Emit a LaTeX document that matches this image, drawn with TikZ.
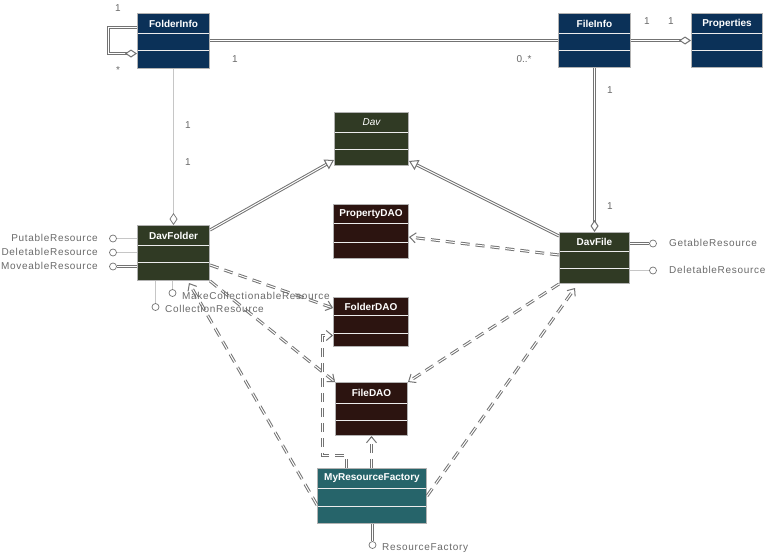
\documentclass[tikz,border=0pt]{standalone}
\usepackage{fontspec}
\setmainfont{Liberation Sans}
\usetikzlibrary{arrows.meta,calc}
\definecolor{cnavy}{HTML}{0B3158}
\definecolor{colive}{HTML}{303A24}
\definecolor{cbrown}{HTML}{2C1410}
\definecolor{cteal}{HTML}{26646A}
\definecolor{ctext}{HTML}{6A6A6A}
\tikzset{
 classbox/.style={draw=gray!60, line width=1pt, inner sep=0pt},
 sepline/.style={draw=gray!15, line width=1pt},
 titletext/.style={text=white, font=\bfseries\fontsize{10}{12}\selectfont, inner sep=0pt},
 conn/.style={draw=black!55, line width=1pt, double=white, double distance=1pt},
 plain/.style={draw=gray!45, line width=1pt},
 dep/.style={conn, dash pattern=on 9pt off 6pt, -{Straight Barb[length=6pt,width=10pt]}},
 gen/.style={conn, -{Triangle[open,length=9pt,width=11pt,fill=white]}},
 agg/.style={conn, -{Diamond[open,length=12pt,width=8pt,fill=white]}},
 aggplain/.style={plain, -{Diamond[open,length=12pt,width=8pt,fill=white,line width=0.7pt,color=black!55]}},
 lbl/.style={text=ctext, font=\fontsize{10}{12}\selectfont\addfontfeature{LetterSpace=7}, inner sep=0pt},
 mult/.style={text=ctext, font=\fontsize{10}{12}\selectfont, inner sep=0pt},
 lolli/.style={circle, draw=black!55, fill=white, minimum size=7pt, inner sep=0pt, line width=0.7pt},
}
\newcommand\umlclass[9]{%
 \node[classbox, fill=#8, anchor=north west, minimum width=#4pt, minimum height={(#5+#6+#7)*1pt}] (#1) at (#2,#3) {};
 \draw[sepline] ($(#1.north west)+(1,#5+0.5)$) -- ($(#1.north east)+(-1,#5+0.5)$);
 \draw[sepline] ($(#1.north west)+(1,#5+#6+0.5)$) -- ($(#1.north east)+(-1,#5+#6+0.5)$);
 \node[titletext] (#1-title) at ($(#1.north)+(0,#5/2+0.5)$) {#9};
}
\begin{document}
\begin{tikzpicture}[x=1pt,y=-1pt]
\useasboundingbox[fill=white] (0,0) rectangle (766,557);

\umlclass{fi}{137}{13}{72}{20}{17}{18}{cnavy}{FolderInfo}
\umlclass{fl}{558}{13}{72}{20}{17}{17}{cnavy}{FileInfo}
\umlclass{pr}{691}{13}{71}{20}{17}{17}{cnavy}{Properties}
\umlclass{dav}{334}{112}{74}{20}{17}{16}{colive}{\mdseries\itshape Dav}
\umlclass{dfo}{137}{225}{72}{20}{17}{18}{colive}{DavFolder}
\umlclass{dfi}{559}{232}{70}{19}{17}{15}{colive}{DavFile}
\umlclass{pdao}{333}{204}{75}{19}{19}{16}{cbrown}{PropertyDAO}
\umlclass{fdao}{333}{297}{75}{18}{18}{13}{cbrown}{FolderDAO}
\umlclass{fidao}{335}{382}{72}{21}{17}{15}{cbrown}{FileDAO}
\umlclass{mrf}{317}{468}{109}{20}{18}{17}{cteal}{MyResourceFactory}

% associations
\draw[agg] ($(fi.north west)+(0,14.5)$) -- ++(-28.5,0) -- ++(0,26) -- ($(fi.north west)+(0,40.5)$);
\draw[conn] ($(fi.north east)+(0,27.5)$) -- ($(fl.north west)+(0,27.5)$);
\draw[agg] ($(fl.north east)+(0,27.5)$) -- ($(pr.north west)+(0,27.5)$);
\draw[agg] (fl.south) -- (dfi.north);
\draw[aggplain] (fi.south) -- (dfo.north);
% generalizations
\draw[gen] ($(dfo.north east)+(0,5)$) -- ($(dav.south west)+(0,-6)$);
\draw[gen] ($(dfi.north west)+(0,4)$) -- ($(dav.south east)+(0,-5)$);
% dependencies
\draw[dep] ($(dfi.north west)+(0,23)$) -- ($(pdao.north east)+(0,33)$);
\draw[dep] (dfi.south west) -- (fidao.north east);
\draw[dep] ($(mrf.north east)+(0,28)$) -- ($(dfi.south west)+(16,4)$);
\draw[dep] ($(dfo.north east)+(0,40)$) -- ($(fdao.north west)+(0,11)$);
\draw[dep] (dfo.south east) -- (fidao.north west);
\draw[dep] ($(mrf.north west)+(0,37)$) -- ($(dfo.south west)+(52,2)$);
\draw[dep] ($(mrf.north west)+(29.5,0)$) -- ++(0,-12.5) -- ++(-24,0) |- ($(fdao.north west)+(0,38.5)$);
\draw[dep] (fidao.south |- mrf.north) -- (fidao.south);

% interfaces
\node[lolli] (cput) at (113,238.5) {};
\draw[plain] (cput) -- (cput -| dfo.west);
\node[lbl, anchor=east] (tput) at (98,238) {PutableResource};
\node[lolli] (cdel) at (113,252.5) {};
\draw[plain] (cdel) -- (cdel -| dfo.west);
\node[lbl, anchor=east] (tdel) at (98,252) {DeletableResource};
\node[lolli] (cmov) at (113,266.5) {};
\draw[conn] (cmov) -- (cmov -| dfo.west);
\node[lbl, anchor=east] (tmov) at (98,266) {MoveableResource};
\node[lolli] (ccol) at (155.5,307) {};
\draw[plain] (ccol) -- (ccol |- dfo.south);
\node[lbl, anchor=west] (tcol) at (165,309) {CollectionResource};
\node[lolli] (cmk) at (172.5,293) {};
\draw[plain] (cmk) -- (cmk |- dfo.south);
\node[lbl, anchor=west] (tmk) at (182,296) {MakeCollectionableResource};
\node[lolli] (cget) at (653,243.5) {};
\draw[conn] (cget) -- (cget -| dfi.east);
\node[lbl, anchor=west] (tget) at (669,243) {GetableResource};
\node[lolli] (cdel2) at (653,270.5) {};
\draw[plain] (cdel2) -- (cdel2 -| dfi.east);
\node[lbl, anchor=west] (tdel2) at (669,270) {DeletableResource};
\node[lolli] (crf) at (372.5,545) {};
\draw[conn] (crf) -- (crf |- mrf.south);
\node[lbl, anchor=west] (trf) at (382,548) {ResourceFactory};

% multiplicities
\node[mult] (m1) at (118,8) {1};
\node[mult] (m2) at (118,70) {*};
\node[mult] (m3) at (235,59) {1};
\node[mult] (m4) at (524,59) {0..*};
\node[mult] (m5) at (647,21) {1};
\node[mult] (m6) at (671,21) {1};
\node[mult] (m7) at (610,90) {1};
\node[mult] (m8) at (610,206) {1};
\node[mult] (m9) at (188,125) {1};
\node[mult] (m10) at (188,162) {1};
\end{tikzpicture}
\end{document}
